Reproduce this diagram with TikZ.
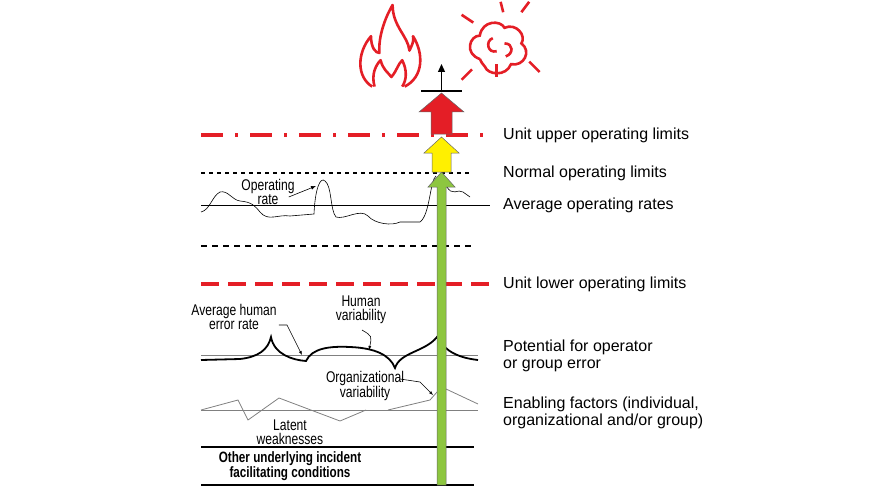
\documentclass[tikz,border=0pt]{standalone}
\usepackage{fontspec}
\setmainfont{Liberation Sans}
\newfontfamily\narrowfont{Liberation Sans}[FakeStretch=0.78]
\usetikzlibrary{arrows.meta,positioning}
\definecolor{limred}{RGB}{228,30,38}
\definecolor{upgreen}{RGB}{141,198,63}
\definecolor{upyellow}{RGB}{255,240,0}
\tikzset{
  lbl/.style={anchor=west,font=\fontsize{16}{17}\selectfont,align=left,inner sep=0pt},
  tag/.style={font=\narrowfont\fontsize{15.5}{14.5}\selectfont,align=center,inner sep=0pt},
  bigup/.style={draw=black!60,line width=0.5pt,line join=miter},
}
\begin{document}
\begin{tikzpicture}[x=1pt,y=-1pt]
\useasboundingbox (0,0) rectangle (880,500);
% limit lines
\draw[limred,line width=3.5pt,dash pattern=on 22pt off 12pt on 3pt off 12pt] (201,135) -- (490,135);
\draw[line width=2pt,dash pattern=on 4pt off 4pt] (201,173) -- (472,173);
\draw[line width=0.8pt] (201,205) -- (490,205);
\draw[line width=1.8pt,dash pattern=on 6pt off 5pt] (201,246) -- (472,246);
\draw[limred,line width=3.5pt,dash pattern=on 18pt off 9pt] (201,284) -- (490,284);
\draw[gray,line width=0.8pt] (201,355) -- (478,355);
\draw[gray,line width=0.8pt] (201,410) -- (478,410);
\draw[line width=2.4pt] (201,447) -- (474,447);
\draw[line width=2.4pt] (201,485) -- (474,485);
% labels on the right
\node[lbl] (upper) at (503,135) {Unit upper operating limits};
\node[lbl] (normal) at (503,173) {Normal operating limits};
\node[lbl] (average) at (503,205) {Average operating rates};
\node[lbl] (lower) at (503,284) {Unit lower operating limits};
\node[lbl] (potential) at (503,356) {Potential for operator\\or group error};
\node[lbl] (enabling) at (503,413) {Enabling factors (individual,\\organizational and/or group)};
% operating rate
\draw[line width=0.6pt] (201,212) .. controls (210,210) and (212,196) .. (220,192)
  .. controls (228,190) and (232,200) .. (240,201) .. controls (252,202) and (255,206) .. (260,212)
  .. controls (268,222) and (278,214) .. (290,216) -- (314,214) .. controls (315,190) and (320,176) .. (325,181)
  .. controls (332,186) and (330,210) .. (336,217) .. controls (345,220) and (360,208) .. (368,216)
  .. controls (375,224) and (392,226) .. (400,222) -- (420,222) .. controls (430,215) and (430,180) .. (436,176);
\draw[line width=0.6pt] (446,185) .. controls (452,198) and (458,188) .. (463,192) -- (470,197);
\node[tag] (oprate) at (268,192) {Operating\\rate};
\draw[-{Latex[length=5pt]},line width=0.6pt] (oprate.east) ++(-6,5) -- (316,186);
% human error
\draw[line width=1.8pt] (201,360) -- (240,359) .. controls (258,357) and (268,350) .. (271,337)
  .. controls (274,354) and (292,360) .. (306,361) .. controls (312,348) and (330,346) .. (350,347)
  .. controls (375,348) and (390,355) .. (395,368) .. controls (400,352) and (425,352) .. (437,337)
  .. controls (445,352) and (460,358) .. (478,360);
\node[tag] (avgerr) at (234,317) {Average human\\error rate};
\coordinate (avgbend) at (287,325);
\draw[-{Latex[length=4pt]},line width=0.6pt] (avgerr.east) ++(2,8) -- (avgbend) -- (302,355);
\node[tag] (humvar) at (361,310) {Human\\variability};
\draw[-{Latex[length=4pt]},line width=0.6pt] (362,330) .. controls (372,336) .. (369,350);
% organizational
\draw[gray,line width=0.8pt] (201,410) -- (238,400) -- (248,420) -- (279,398) -- (340,421) -- (366,410);
\draw[gray,line width=0.8pt] (388,410) -- (430,400) -- (437,392);
\draw[gray,line width=0.8pt] (446,389) -- (478,404);
\node[tag] (orgvar) at (365,386) {Organizational\\variability};
\draw[-{Latex[length=4pt]},line width=0.6pt] (orgvar.east) ++(-4,-7) -- (420,382) -- (433,395);
\node[tag] (latent) at (290,432) {Latent\\weaknesses};
\node[tag,font=\narrowfont\bfseries\fontsize{15}{15.5}\selectfont] (other) at (290,466) {Other underlying incident\\facilitating conditions};
% escalation arrows
\draw[bigup,fill=upgreen] (437,485) -- (437,187) -- (428,187) -- (441.5,172) -- (455,187) -- (446,187) -- (446,485) -- cycle;
\draw[bigup,fill=upyellow] (432,172) -- (432,153) -- (424,153) -- (441.5,137) -- (459,153) -- (451,153) -- (451,172) -- cycle;
\draw[bigup,fill=limred] (431,134) -- (431,112) -- (419,112) -- (441.5,93) -- (464,112) -- (452,112) -- (452,134) -- cycle;
\coordinate (bar) at (441.5,91);
\draw[line width=2.4pt] (421,91) -- (462,91);
\draw[-{Triangle[length=8pt,width=7pt]},line width=1.2pt] (bar) -- (441.5,64);
% fire
\begin{scope}[limred,line width=2.6pt,line join=round,shift={(389,47)},scale=1.2,shift={(-389,-47)}]
\draw (375,80) .. controls (362,72) and (362,52) .. (374,38)
  .. controls (374,48) and (378,52) .. (381,52) .. controls (380,38) and (386,22) .. (392,12)
  .. controls (392,30) and (405,38) .. (406,50) .. controls (408,46) and (410,42) .. (409,38)
  .. controls (418,52) and (418,72) .. (402,80);
\draw (377,80) .. controls (374,70) and (378,62) .. (382,58)
  .. controls (384,66) and (388,68) .. (391,72) .. controls (396,66) and (396,62) .. (400,58)
  .. controls (404,66) and (404,74) .. (400,80);
\end{scope}
% explosion
\begin{scope}[limred,line width=2.6pt,shift={(498,46)},scale=1.3,shift={(-498,-46)}]
\draw (484,56) .. controls (472,52) and (476,38) .. (484,38) .. controls (486,26) and (500,26) .. (503,32)
  .. controls (512,28) and (520,38) .. (516,44) .. controls (524,50) and (518,62) .. (508,60)
  .. controls (504,70) and (490,68) .. (488,62) .. controls (486,60) and (485,58) .. (484,56);
\draw (494,40) .. controls (488,42) and (490,52) .. (497,50);
\draw (503,44) .. controls (510,44) and (510,52) .. (504,54);
\draw (497,60) -- (497,70);
\draw (479,28) -- (470,22); \draw (500,12) -- (502,20); \draw (522,12) -- (516,20);
\draw (522,58) -- (530,66); \draw (478,64) -- (470,72);
\end{scope}
\end{tikzpicture}
\end{document}
